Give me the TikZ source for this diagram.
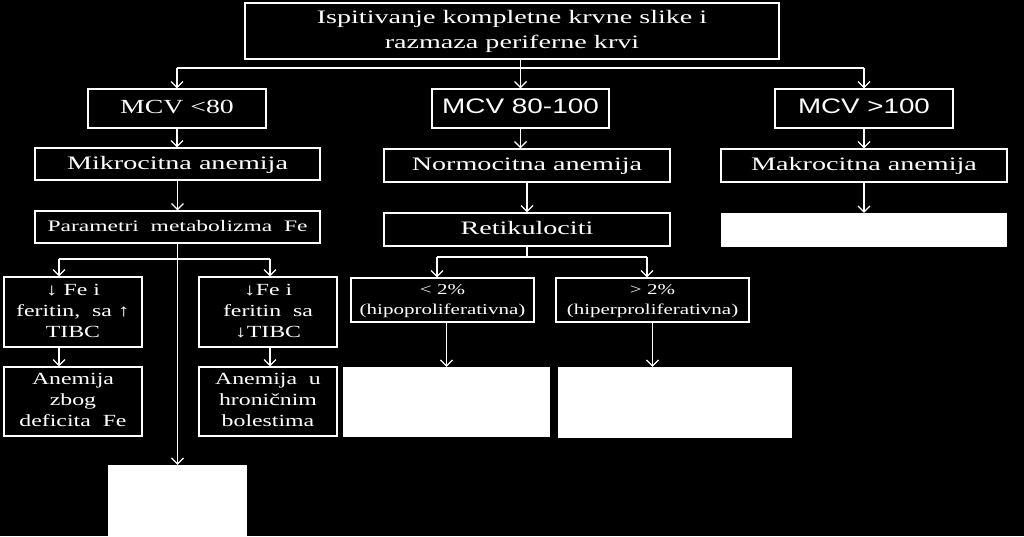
\documentclass[tikz,border=0pt]{standalone}
\usepackage{fontspec}
\setmainfont{Liberation Serif}
\setsansfont{Liberation Sans}
\usepackage{graphicx}
\usetikzlibrary{arrows.meta}
\newcommand\stretchx[2]{\scalebox{#1}[1]{\begin{tabular}{@{}c@{}}#2\end{tabular}}}
\begin{document}
\begin{tikzpicture}[x=1pt,y=-1pt,
  box/.style={draw=white, line width=1.3pt, text=white, inner sep=0pt, anchor=center},
  blank/.style={fill=white, draw=none, inner sep=0pt, anchor=center},
  arr/.style={draw=white, line width=1.3pt, -{Straight Barb[length=6pt,width=12pt,line width=1.2pt]}},
  ln/.style={draw=white, line width=1.3pt},
  big/.style={font=\fontsize{19}{25}\selectfont},
  sml/.style={font=\fontsize{17}{21}\selectfont},
  tiny/.style={font=\fontsize{15}{20}\selectfont},
  sansbig/.style={font=\sffamily\fontsize{21}{25}\selectfont}]
\fill[black] (0,0) rectangle (1024,536);
\useasboundingbox (0,0) rectangle (1024,536);

\node[box, big, minimum width=534, minimum height=56] (top) at (512,31)
  {\stretchx{1.48}{Ispitivanje kompletne krvne slike i\\razmaza periferne krvi}};

\node[box, font=\fontsize{20}{24}\selectfont, minimum width=178, minimum height=39] (m1) at (177,108.5) {\stretchx{1.39}{MCV <80}};
\node[box, sansbig, minimum width=177, minimum height=39] (m2) at (520.5,108.5) {\stretchx{1.33}{MCV 80-100}};
\node[box, sansbig, minimum width=178, minimum height=39] (m3) at (864,108.5) {\stretchx{1.32}{MCV >100}};

\node[box, big, minimum width=285, minimum height=32] (a1) at (177.5,164) {\stretchx{1.48}{Mikrocitna anemija}};
\node[box, big, minimum width=286, minimum height=33] (a2) at (527,165.5) {\stretchx{1.48}{Normocitna anemija}};
\node[box, big, minimum width=286, minimum height=33] (a3) at (864,165.5) {\stretchx{1.48}{Makrocitna anemija}};

\node[box, font=\fontsize{16}{20}\selectfont, minimum width=285, minimum height=32] (p1) at (177.5,227) {\stretchx{1.47}{Parametri\ \ metabolizma\ \ Fe}};
\node[box, big, minimum width=286, minimum height=33] (r2) at (527,229.5) {\stretchx{1.48}{Retikulociti}};
\node[blank, minimum width=286, minimum height=34] (b3) at (864,230) {};

\node[box, sml, minimum width=138, minimum height=70] (f1) at (73,312) {\stretchx{1.4}{↓ Fe i\\feritin,\ \ sa ↑\\TIBC}};
\node[box, sml, minimum width=138, minimum height=70] (f2) at (268,312) {\stretchx{1.4}{↓Fe i\\feritin\ \ sa\\↓TIBC}};
\node[box, sml, minimum width=138, minimum height=69] (z1) at (73,401.5) {\stretchx{1.4}{Anemija\\zbog\\deficita\ \ Fe}};
\node[box, sml, minimum width=138, minimum height=69] (z2) at (268,401.5) {\stretchx{1.4}{Anemija\ \ u\\hroničnim\\bolestima}};
\node[blank, minimum width=139, minimum height=71] (w1) at (177.5,500.5) {};

\node[box, tiny, minimum width=183, minimum height=44] (l1) at (442.5,300) {\stretchx{1.4}{< 2\%\\(hipoproliferativna)}};
\node[box, tiny, minimum width=193, minimum height=44] (l2) at (652.5,300) {\stretchx{1.4}{> 2\%\\(hiperproliferativna)}};
\node[blank, minimum width=207, minimum height=70] (wl1) at (446.5,402) {};
\node[blank, minimum width=234, minimum height=71] (wl2) at (675,402.5) {};

% connectors
\coordinate (h1) at (177,68);
\coordinate (h3) at (864,68);
\draw[ln] (h1) -- (h3);
\draw[arr] (h1) -- (m1.north);
\draw[arr] (h3) -- (m3.north);
\draw[arr] (top.south -| m2.north) -- (m2.north);
\draw[arr] (m1.south) -- (m1.south |- a1.north);
\draw[arr] (m2.south) -- (m2.south |- a2.north);
\draw[arr] (m3.south) -- (m3.south |- a3.north);
\draw[arr] (a1.south) -- (a1.south |- p1.north);
\draw[arr] (a2.south) -- (a2.south |- r2.north);
\draw[arr] (a3.south) -- (a3.south |- b3.north);
\draw[arr] (p1.south) -- (w1.north);

\coordinate (fb1) at (59,259);
\coordinate (fb2) at (270,259);
\draw[ln] (fb1) -- (fb2);
\draw[arr] (fb1) -- (fb1 |- f1.north);
\draw[arr] (fb2) -- (fb2 |- f2.north);
\draw[arr] (f1.south -| fb1) -- (fb1 |- z1.north);
\draw[arr] (f2.south -| fb2) -- (fb2 |- z2.north);

\coordinate (rb1) at (437,257);
\coordinate (rb2) at (647,257);
\draw[ln] (r2.south) -- (r2.south |- rb1);
\draw[ln] (rb1) -- (rb2);
\draw[arr] (rb1) -- (rb1 |- l1.north);
\draw[arr] (rb2) -- (rb2 |- l2.north);
\draw[arr] (wl1.north |- l1.south) -- (wl1.north);
\draw[arr] (l2.south) -- (l2.south |- wl2.north);
\end{tikzpicture}
\end{document}
